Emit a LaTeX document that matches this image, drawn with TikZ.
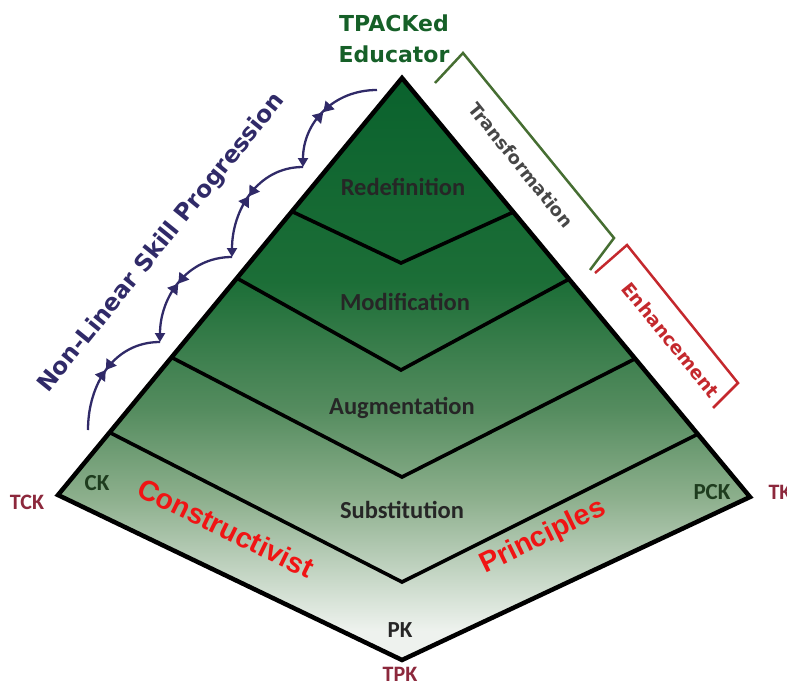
\documentclass[tikz,border=0pt]{standalone}
\usepackage{fontspec}
\setmainfont{DejaVu Sans}
\newfontfamily\arialfont{Liberation Sans}
\newfontfamily\narrowfont{Carlito}
\usetikzlibrary{arrows.meta,decorations.markings,calc}

\definecolor{sA}{RGB}{10,98,45}
\definecolor{sB}{RGB}{28,110,55}
\definecolor{sC}{RGB}{85,140,95}
\definecolor{sD}{RGB}{140,175,140}
\definecolor{sE}{RGB}{238,242,238}
\definecolor{navyc}{RGB}{48,42,104}
\definecolor{topgreen}{RGB}{22,96,40}
\definecolor{brgreen}{RGB}{70,110,50}
\definecolor{brred}{RGB}{196,40,45}
\definecolor{laytext}{RGB}{38,38,38}
\definecolor{cornred}{RGB}{140,40,60}
\definecolor{ckgreen}{RGB}{30,60,30}
\definecolor{redtext}{RGB}{240,20,20}

\pgfdeclareverticalshading{pyr}{100bp}{color(0bp)=(sE); color(27.5bp)=(sE); color(39bp)=(sD); color(46.5bp)=(sC); color(57.5bp)=(sB); color(75bp)=(sA); color(100bp)=(sA)}

\tikzset{
  outline/.style={line width=4.5pt, line join=miter},
  layerline/.style={line width=3.6pt, line join=miter},
  laylabel/.style={font=\narrowfont\bfseries\fontsize{24.5}{26}\selectfont, text=laytext},
  toplabel/.style={font=\bfseries\fontsize{22}{31}\selectfont, text=topgreen, align=center},
  progtext/.style={font=\bfseries\fontsize{23.5}{25}\selectfont, text=navyc},
  skillarc/.style={draw=navyc, line width=2.3pt,
     postaction={decorate},
     decoration={markings,
       mark=at position 0.5 with {\arrow{Triangle[width=12pt,length=10pt]}},
       mark=at position 0.5 with {\arrowreversed{Triangle[width=12pt,length=10pt]}}}},
  junctip/.style={-{Triangle[width=10pt,length=9pt]}},
  transtext/.style={font=\bfseries\fontsize{18}{20}\selectfont, text=black!72},
  enhtext/.style={font=\bfseries\fontsize{18.5}{20}\selectfont, text=brred},
  bracketg/.style={draw=brgreen, line width=2.5pt, line join=miter},
  bracketr/.style={draw=brred, line width=2.5pt, line join=miter},
  redbig/.style={font=\arialfont\bfseries\fontsize{28.5}{30}\selectfont, text=redtext},
  inner/.style={font=\narrowfont\bfseries\fontsize{23}{25}\selectfont},
  corner/.style={font=\narrowfont\bfseries\fontsize{22}{24}\selectfont, text=cornred},
}

\begin{document}
\begin{tikzpicture}[x=1pt,y=-1pt]
\useasboundingbox (0,0) rectangle (787,688);

% outer kite
\coordinate (A) at (402,78);
\coordinate (L) at (58,495);
\coordinate (B) at (402,660);
\coordinate (R) at (750,497);

\fill[shading=pyr] (A) -- (R) -- (B) -- (L) -- cycle;

% layer lines
\coordinate (l1) at ($(A)!0.32!(L)$); \coordinate (r1) at ($(A)!0.32!(R)$); \coordinate (v1) at (401,263);
\coordinate (l2) at ($(A)!0.48!(L)$); \coordinate (r2) at ($(A)!0.48!(R)$); \coordinate (v2) at (401,370);
\coordinate (l3) at ($(A)!0.67!(L)$); \coordinate (r3) at ($(A)!0.67!(R)$); \coordinate (v3) at (402,477);
\coordinate (l4) at ($(A)!0.85!(L)$); \coordinate (r4) at ($(A)!0.85!(R)$); \coordinate (v4) at (402,582);

\draw[layerline] (l1) -- (v1) -- (r1);
\draw[layerline] (l2) -- (v2) -- (r2);
\draw[layerline] (l3) -- (v3) -- (r3);
\draw[layerline] (l4) -- (v4) -- (r4);

\draw[outline] (A) -- (R) -- (B) -- (L) -- cycle;

% layer labels
\node[laylabel] (redef) at (403,187) {Redefinition};
\node[laylabel] (modif) at (405,302) {Modification};
\node[laylabel] (augm) at (402,408) {Augmentation};
\node[laylabel] (subst) at (402,510) {Substitution};

% top label
\node[toplabel] (tpack) at (394,39) {TPACKed\\Educator};

% non-linear progression
\node[progtext, rotate=51] (prog) at (162,243) {Non-Linear Skill Progression};

\coordinate (p0) at (377,90);
\coordinate (j1) at (303,167);
\coordinate (j2) at (232,257);
\coordinate (j3) at (160,342);
\coordinate (p4) at (88,430);

\draw[skillarc, junctip] (p0) .. controls +(-44,0) and +(0,-44) .. (j1);
\draw[skillarc, junctip] (j1) .. controls +(-46,0) and +(0,-46) .. (j2);
\draw[skillarc, junctip] (j2) .. controls +(-45,0) and +(0,-45) .. (j3);
\draw[skillarc] (j3) .. controls +(-46,0) and +(0,-46) .. (p4);

% brackets
\coordinate (g1) at (435,83);
\coordinate (g2) at (463,53);
\coordinate (g3) at (614,238);
\coordinate (g4) at (590,270);
\draw[bracketg] (g1) -- (g2) -- (g3) -- (g4);

\coordinate (e1) at (595,273);
\coordinate (e2) at (627,245);
\coordinate (e3) at (738,383);
\coordinate (e4) at (713,408);
\draw[bracketr] (e1) -- (e2) -- (e3) -- (e4);

\node[transtext, rotate=-51] (trans) at (521,165) {Transformation};
\node[enhtext, rotate=-51] (enh) at (671,340) {Enhancement};

% constructivist principles
\node[redbig, rotate=-26] (constr) at (226,528) {Constructivist};
\node[redbig, rotate=26] (princ) at (543,537) {Principles};

% inner corner labels
\node[inner, text=ckgreen] (ck) at (97,483) {CK};
\node[inner, text=ckgreen] (pck) at (712,492) {PCK};
\node[inner, text=laytext] (pk) at (400,630) {PK};

% outer corner labels
\node[corner] (tck) at (27,502) {TCK};
\node[corner, anchor=west] (tk) at (765,492) {TK};
\node[corner] (tpk) at (400,674) {TPK};
\end{tikzpicture}
\end{document}
